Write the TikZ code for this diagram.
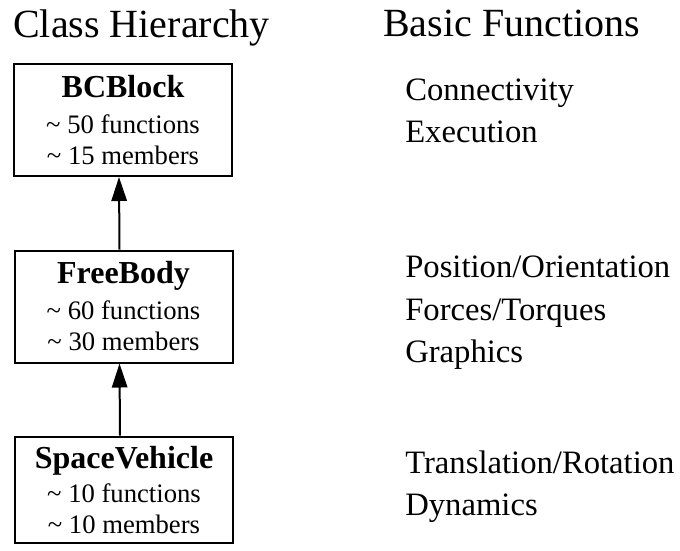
\documentclass[tikz,border=0pt]{standalone}
\usepackage{fontspec}
\setmainfont{Liberation Serif}
\usetikzlibrary{arrows.meta,positioning}

\begin{document}
\begin{tikzpicture}[
    x=0.75pt, y=-0.75pt,
    classbox/.style={rectangle, draw, line width=1.5pt, minimum width=163.5pt, minimum height=84pt, align=center, inner sep=0pt, font=\fontsize{20}{23.25}\selectfont},
    heading/.style={font=\fontsize{30}{34}\selectfont, anchor=base west, inner sep=0pt},
    funcline/.style={font=\fontsize{24.5}{28}\selectfont, anchor=base west, inner sep=0pt},
    inherit/.style={-{Triangle[length=18pt,width=11.5pt]}, line width=1.5pt}
]
    \useasboundingbox (0,0) rectangle (680,550);

    % Headings
    \node[heading] (hier) at (13,37) {Class Hierarchy};
    \node[heading] (basic) at (383,36) {Basic Functions};

    % Class boxes
    \node[classbox] (bc) at (123,120) {{\bfseries\fontsize{24}{27}\selectfont BCBlock}\\[3.75pt] \textasciitilde\ 50 functions\\ \textasciitilde\ 15 members};
    \node[classbox] (fb) at (123.5,306.5) {{\bfseries\fontsize{24}{27}\selectfont FreeBody}\\[3.75pt] \textasciitilde\ 60 functions\\ \textasciitilde\ 30 members};
    \node[classbox, minimum height=80pt] (sv) at (124,490) {{\bfseries\fontsize{24}{27}\selectfont SpaceVehicle}\\[2pt] \textasciitilde\ 10 functions\\ \textasciitilde\ 10 members};

    % Inheritance
    \draw[inherit] ([xshift=-3pt]fb.north) -- ([xshift=-3pt]bc.south);
    \draw[inherit] ([xshift=-3pt]sv.north) -- ([xshift=-3pt]fb.south);

    % Functions
    \node[funcline] (conn) at (405,100) {Connectivity};
    \node[funcline] (exec) at (405,142) {Execution};
    \node[funcline] (pos) at (405,277) {Position/Orientation};
    \node[funcline] (force) at (405,320) {Forces/Torques};
    \node[funcline] (graph) at (405,362) {Graphics};
    \node[funcline] (trans) at (405,473) {Translation/Rotation};
    \node[funcline] (dyn) at (405,515) {Dynamics};
\end{tikzpicture}
\end{document}
